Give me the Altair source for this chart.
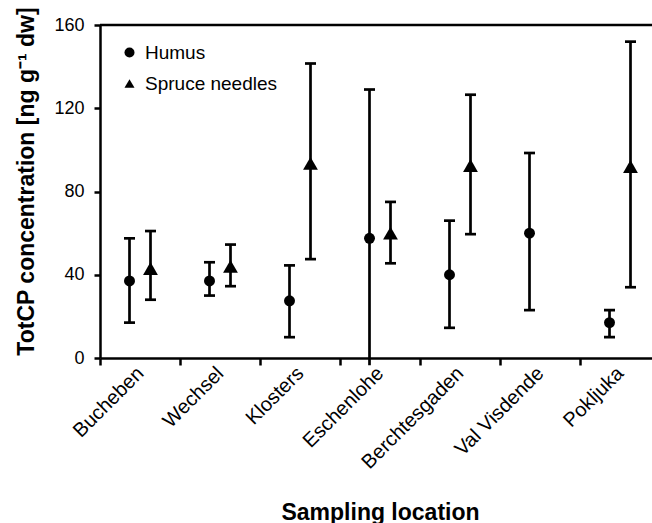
import altair as alt
import pandas as pd

# Sampling sites along the transect
locations = ["Bucheben", "Wechsel", "Klosters", "Eschenlohe",
             "Berchtesgaden", "Val Visdende", "Pokljuka"]
series_names = ["Humus", "Spruce needles"]

# TotCP concentration [ng/g dw]: mean with lower / upper error limits
humus_mean = [37.0, 37.0, 27.5, 57.5, 40.0, 60.0, 17.0]
humus_low = [17.0, 30.0, 10.0, -3.5, 14.5, 23.0, 10.0]
humus_high = [57.5, 46.0, 44.5, 129.0, 66.0, 98.5, 23.0]

spruce_mean = [43.0, 44.0, 93.5, 60.0, 92.5, None, 92.0]
spruce_low = [28.0, 34.5, 47.5, 45.5, 59.5, None, 34.0]
spruce_high = [61.0, 54.5, 141.5, 75.0, 126.5, None, 152.0]

y_ticks = [0, 40, 80, 120, 160]

FONT = "Liberation Sans"
PLOT_W = 552
PLOT_H = 333

rows = []
for name, means, lows, highs in [
    ("Humus", humus_mean, humus_low, humus_high),
    ("Spruce needles", spruce_mean, spruce_low, spruce_high),
]:
    for loc, m, lo, hi in zip(locations, means, lows, highs):
        if m is None:
            continue
        rows.append({"location": loc, "series": name,
                     "mean": m, "low": lo, "high": hi})
df = pd.DataFrame(rows)

x_enc = alt.X(
    "location:N",
    sort=locations,
    scale=alt.Scale(type="band", domain=locations, range=[0, 560],
                    paddingInner=0, paddingOuter=0),
    axis=alt.Axis(
        tickBand="extent", labelAngle=-45, labelAlign="right",
        labelBaseline="middle", labelFont=FONT, labelFontSize=20,
        labelColor="black", labelPadding=5,
        tickSize=7, tickWidth=2.5, tickColor="black",
        domainWidth=2.5, domainColor="black",
        title="Sampling location", titleFont=FONT, titleFontSize=23,
        titleFontWeight="bold", titleColor="black",
        titleX=280, titleY=161, titleAlign="center",
        titleBaseline="alphabetic",
    ),
)
xoff_enc = alt.XOffset(
    "series:N",
    scale=alt.Scale(type="band", domain=series_names,
                    paddingInner=0, paddingOuter=0.905),
)
y_scale = alt.Scale(domain=[0, 160], nice=False, zero=False)
y_axis = alt.Axis(
    values=y_ticks, grid=False,
    labelFont=FONT, labelFontSize=18, labelColor="black", labelPadding=10,
    tickSize=6, tickWidth=2.5, tickColor="black",
    domainWidth=2.5, domainColor="black",
    title="TotCP concentration [ng g\u207b\u00b9 dw]",
    titleFont=FONT, titleFontSize=23, titleFontWeight="bold",
    titleColor="black", titleX=-67, titleY=156, titleAlign="center",
    titleBaseline="alphabetic", titleAngle=-90,
)

shape_enc = alt.Shape(
    "series:N",
    scale=alt.Scale(domain=series_names, range=["circle", "triangle-up"]),
    legend=alt.Legend(
        title=None, orient="none", legendX=20, legendY=18,
        labelFont=FONT, labelFontSize=19, labelColor="black",
        labelOffset=6, symbolSize=100, symbolFillColor="black",
        symbolStrokeColor="black", symbolStrokeWidth=0,
        rowPadding=11, padding=0,
    ),
)

base = alt.Chart(df)

bars = base.mark_rule(color="black", strokeWidth=2.7).encode(
    x=x_enc, xOffset=xoff_enc,
    y=alt.Y("low:Q", scale=y_scale, axis=y_axis),
    y2="high:Q",
)

caps_hi = base.mark_tick(color="black", orient="horizontal",
                         size=11, thickness=2.7, opacity=1).encode(
    x=x_enc, xOffset=xoff_enc,
    y=alt.Y("high:Q", scale=y_scale),
)
# no lower cap where the bar runs past the axis
caps_lo = base.transform_filter("datum.low >= 0").mark_tick(
    color="black", orient="horizontal", size=11, thickness=2.7, opacity=1
).encode(
    x=x_enc, xOffset=xoff_enc,
    y=alt.Y("low:Q", scale=y_scale),
)

humus_pts = base.transform_filter("datum.series === 'Humus'").mark_point(
    filled=True, color="black", opacity=1, size=120
).encode(
    x=x_enc, xOffset=xoff_enc,
    y=alt.Y("mean:Q", scale=y_scale),
    shape=shape_enc,
)
spruce_pts = base.transform_filter(
    "datum.series === 'Spruce needles'"
).mark_point(filled=True, color="black", opacity=1, size=220).encode(
    x=x_enc, xOffset=xoff_enc,
    y=alt.Y("mean:Q", scale=y_scale),
    shape=shape_enc,
)

top_edge = alt.Chart(pd.DataFrame({"edge": [0]})).mark_rule(
    color="black", strokeWidth=2.5
).encode(x=alt.value(0), x2=alt.value(PLOT_W), y=alt.value(0))

chart = alt.layer(
    top_edge, bars, caps_hi, caps_lo, humus_pts, spruce_pts
).properties(
    width=PLOT_W, height=PLOT_H,
    autosize=alt.AutoSizeParams(type="none"),
    padding={"left": 100, "top": 25, "right": 0, "bottom": 165},
    background="white",
).configure_view(stroke=None)

chart.save("out.html", embed_options={"renderer": "svg", "actions": False})
